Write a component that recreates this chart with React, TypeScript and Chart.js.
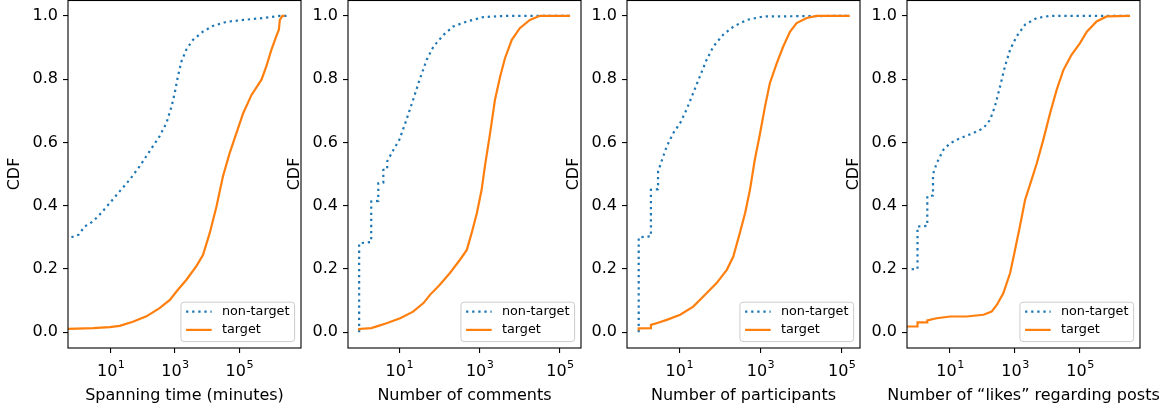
import React, { useEffect, useRef } from 'react';
import { Chart, registerables } from 'chart.js';

Chart.register(...registerables);

const FONT = "'DejaVu Sans', 'Liberation Sans', sans-serif";
const BLUE = '#1f77b4';
const ORANGE = '#ff7f0e';

// ---------- data ----------
const seriesLabels = ['non-target', 'target'];
const xTitles = [
  'Spanning time (minutes)',
  'Number of comments',
  'Number of participants',
  'Number of \u201clikes\u201d regarding posts',
];
const xTickValues = [10, 1000, 100000];
const xTickBases = ['10', '10', '10'];
const xTickExponents = ['1', '3', '5'];
const yTickValues = [0, 0.2, 0.4, 0.6, 0.8, 1.0];
const yTickLabels = ['0.0', '0.2', '0.4', '0.6', '0.8', '1.0'];

// Spanning time
const spanNonTargetX = [0.6, 1, 1.55, 2.8, 4.5, 9.3, 19, 39, 79, 160, 330, 540, 780, 980, 1230, 1590, 2240, 3630, 7400, 15000, 40000, 132000, 550000, 1820000, 3700000];
const spanNonTargetY = [0.300, 0.308, 0.334, 0.350, 0.371, 0.408, 0.445, 0.482, 0.524, 0.571, 0.619, 0.661, 0.713, 0.756, 0.808, 0.856, 0.893, 0.924, 0.950, 0.968, 0.981, 0.987, 0.993, 1.0, 1.0];
const spanTargetX = [0.4, 2.8, 9.3, 19, 49, 129, 331, 692, 1230, 2240, 4570, 7410, 12000, 19500, 30900, 50100, 81300, 132000, 240000, 490000, 692000, 1000000, 1410000, 1700000, 1820000, 2190000, 2570000];
const spanTargetY = [0.0105, 0.0126, 0.0158, 0.020, 0.033, 0.050, 0.076, 0.102, 0.134, 0.165, 0.208, 0.244, 0.313, 0.397, 0.492, 0.566, 0.629, 0.692, 0.750, 0.798, 0.840, 0.893, 0.935, 0.956, 0.987, 1.0, 1.0];

// Comments
const commNonTargetX = [1, 1, 2, 2, 3, 3, 4, 4, 5, 5, 7.1, 10, 15, 22, 32, 48, 71, 126, 219, 479, 1230, 4680, 178000];
const commNonTargetY = [0, 0.281, 0.285, 0.413, 0.415, 0.471, 0.473, 0.513, 0.515, 0.54, 0.576, 0.608, 0.671, 0.734, 0.798, 0.861, 0.903, 0.940, 0.966, 0.982, 0.996, 1.0, 1.0];
const commTargetX = [1, 1, 2, 3, 4.8, 10.5, 22, 40, 58, 102, 182, 324, 479, 631, 851, 1120, 1350, 1820, 2400, 3240, 4270, 6310, 10000, 17800, 31600, 178000];
const commTargetY = [0.005, 0.01, 0.013, 0.02, 0.028, 0.044, 0.065, 0.092, 0.118, 0.150, 0.187, 0.229, 0.260, 0.313, 0.376, 0.450, 0.524, 0.629, 0.734, 0.808, 0.866, 0.924, 0.961, 0.987, 1.0, 1.0];

// Participants
const partNonTargetX = [1, 1, 2, 2, 3, 3, 4, 4.9, 7.1, 10.5, 15, 22, 32, 47, 69, 120, 214, 457, 1170, 158000];
const partNonTargetY = [0, 0.30, 0.303, 0.45, 0.452, 0.508, 0.555, 0.587, 0.629, 0.661, 0.703, 0.756, 0.808, 0.861, 0.903, 0.940, 0.966, 0.987, 0.998, 1.0];
const partTargetX = [1, 1, 2, 2, 3, 4.9, 10.5, 22, 39, 83, 148, 214, 309, 417, 550, 724, 977, 1290, 1700, 2510, 3630, 5370, 7760, 13800, 24000, 158000];
const partTargetY = [0.005, 0.012, 0.013, 0.023, 0.03, 0.039, 0.055, 0.081, 0.113, 0.155, 0.197, 0.239, 0.313, 0.376, 0.450, 0.545, 0.629, 0.713, 0.787, 0.850, 0.903, 0.950, 0.977, 0.993, 1.0, 1.0];

// Likes
const likeNonTargetX = [0.66, 1, 1, 2, 2, 3, 3, 3.9, 6.2, 10, 20, 52, 107, 170, 240, 347, 490, 708, 1120, 2040, 4680, 12000, 3470000];
const likeNonTargetY = [0.199, 0.2, 0.334, 0.336, 0.43, 0.432, 0.50, 0.534, 0.576, 0.597, 0.613, 0.629, 0.645, 0.671, 0.713, 0.777, 0.840, 0.893, 0.935, 0.972, 0.993, 1.0, 1.0];
const likeTargetX = [0.45, 1, 1, 2, 2, 3.9, 10, 32, 107, 191, 275, 436, 708, 1000, 1410, 2040, 3240, 4680, 7410, 12000, 19100, 30900, 54900, 100000, 162000, 324000, 661000, 3470000];
const likeTargetY = [0.018, 0.018, 0.031, 0.031, 0.037, 0.044, 0.0495, 0.0495, 0.055, 0.065, 0.086, 0.123, 0.187, 0.260, 0.334, 0.418, 0.482, 0.534, 0.608, 0.692, 0.766, 0.829, 0.877, 0.914, 0.950, 0.982, 0.998, 1.0];

// ---------- layout ----------
const Y_AXIS_W = 68;
const X_AXIS_H = 64;
const PLOT_W = 233;
const CANVAS_H = 412;
const TICK_FS = 16;
const EXP_FS = 11.2;
const LEGEND_FS = 12.8;

type Panel = {
  left: number;
  rightExtra: number;
  xMin: number;
  xMax: number;
  title: string;
  nx: number[];
  ny: number[];
  tx: number[];
  ty: number[];
};

const panels: Panel[] = [
  { left: 0, rightExtra: 2, xMin: 0.47, xMax: 8.3e6, title: xTitles[0], nx: spanNonTargetX, ny: spanNonTargetY, tx: spanTargetX, ty: spanTargetY },
  { left: 280, rightExtra: 2, xMin: 0.528, xMax: 333400, title: xTitles[1], nx: commNonTargetX, ny: commNonTargetY, tx: commTargetX, ty: commTargetY },
  { left: 559, rightExtra: 2, xMin: 0.515, xMax: 282500, title: xTitles[2], nx: partNonTargetX, ny: partNonTargetY, tx: partTargetX, ty: partTargetY },
  { left: 839, rightExtra: 27, xMin: 0.475, xMax: 7.01e6, title: xTitles[3], nx: likeNonTargetX, ny: likeNonTargetY, tx: likeTargetX, ty: likeTargetY },
];

const toPoints = (xs: number[], ys: number[]) => xs.map((x, i) => ({ x, y: ys[i] }));

const framePlugin = {
  id: 'mplFrame',
  afterDatasetsDraw(chart: any) {
    const { ctx, chartArea: a } = chart;
    ctx.save();
    ctx.strokeStyle = '#000';
    ctx.lineWidth = 1.1;
    ctx.strokeRect(a.left, a.top + 0.5, a.right - a.left, a.bottom - a.top - 0.5);
    ctx.restore();
  },
};

// x tick labels as "10" with raised exponent, plus x-axis title (not width-limited)
const xTextPlugin = {
  id: 'mplXText',
  afterDraw(chart: any) {
    const { ctx, chartArea: a } = chart;
    const xs = chart.scales.x;
    ctx.save();
    ctx.fillStyle = '#000';
    ctx.textBaseline = 'alphabetic';
    ctx.textAlign = 'left';
    xTickValues.forEach((v, i) => {
      const px = xs.getPixelForValue(v);
      ctx.font = `${TICK_FS}px ${FONT}`;
      const w1 = ctx.measureText(xTickBases[i]).width;
      ctx.font = `${EXP_FS}px ${FONT}`;
      const w2 = ctx.measureText(xTickExponents[i]).width;
      const x0 = px - (w1 + w2) / 2;
      ctx.font = `${TICK_FS}px ${FONT}`;
      ctx.fillText(xTickBases[i], x0, a.bottom + 28);
      ctx.font = `${EXP_FS}px ${FONT}`;
      ctx.fillText(xTickExponents[i], x0 + w1 + 0.5, a.bottom + 20);
    });
    const title = chart.options.plugins.mplXText.title;
    ctx.font = `${TICK_FS}px ${FONT}`;
    ctx.textAlign = 'center';
    ctx.fillText(title, (a.left + a.right) / 2, a.bottom + 51.5);
    ctx.restore();
  },
};

const legendPlugin = {
  id: 'mplLegend',
  afterDraw(chart: any) {
    const { ctx, chartArea: a } = chart;
    const fs = LEGEND_FS;
    ctx.save();
    ctx.font = `${fs}px ${FONT}`;
    const items = seriesLabels.map((l) => chart.data.datasets.find((d: any) => d.label === l));
    const tw = Math.max(...seriesLabels.map((l) => ctx.measureText(l).width));
    const pad = 0.4 * fs;
    const hl = 2 * fs;
    const htp = 0.8 * fs;
    const w = pad + hl + htp + tw + pad;
    const h = 39.4;
    const x0 = a.right - 0.5 * fs - w;
    const y0 = a.bottom - 0.5 * fs - h;
    ctx.beginPath();
    if (ctx.roundRect) ctx.roundRect(x0, y0, w, h, 3);
    else ctx.rect(x0, y0, w, h);
    ctx.fillStyle = 'rgba(255,255,255,0.8)';
    ctx.fill();
    ctx.strokeStyle = '#cccccc';
    ctx.lineWidth = 1;
    ctx.stroke();
    const rows = [y0 + 9.4, y0 + 27.7];
    items.forEach((ds: any, i: number) => {
      const y = rows[i];
      ctx.beginPath();
      ctx.strokeStyle = ds.borderColor;
      ctx.lineWidth = ds.borderWidth;
      ctx.setLineDash(ds.borderDash || []);
      ctx.moveTo(x0 + pad, y);
      ctx.lineTo(x0 + pad + hl, y);
      ctx.stroke();
      ctx.setLineDash([]);
      ctx.fillStyle = '#000';
      ctx.textBaseline = 'middle';
      ctx.textAlign = 'left';
      ctx.fillText(ds.label, x0 + pad + hl + htp, y);
    });
    ctx.restore();
  },
};

function CdfPanel({ p }: { p: Panel }) {
  const ref = useRef<HTMLCanvasElement | null>(null);
  const canvasW = Y_AXIS_W + PLOT_W + p.rightExtra;
  useEffect(() => {
    if (!ref.current) return;
    const chart = new Chart(ref.current, {
      type: 'line',
      data: {
        datasets: [
          {
            label: seriesLabels[1],
            data: toPoints(p.tx, p.ty),
            borderColor: ORANGE,
            backgroundColor: ORANGE,
            borderWidth: 2.2,
            pointRadius: 0,
            tension: 0,
            fill: false,
            order: 0,
          },
          {
            label: seriesLabels[0],
            data: toPoints(p.nx, p.ny),
            borderColor: BLUE,
            backgroundColor: BLUE,
            borderWidth: 2.2,
            borderDash: [2.3, 3.8],
            pointRadius: 0,
            tension: 0,
            fill: false,
            order: 1,
          },
        ],
      },
      options: {
        animation: false,
        responsive: false,
        events: [],
        layout: { padding: { top: 0, right: p.rightExtra, left: 0, bottom: 0 } },
        plugins: {
          legend: { display: false },
          tooltip: { enabled: false },
          mplXText: { title: p.title },
        },
        scales: {
          x: {
            type: 'logarithmic',
            min: p.xMin,
            max: p.xMax,
            afterBuildTicks: (s: any) => {
              s.ticks = xTickValues.map((v) => ({ value: v }));
            },
            afterFit: (s: any) => {
              s.height = X_AXIS_H;
              s.paddingLeft = 0;
              s.paddingRight = 0;
            },
            ticks: { display: false, autoSkip: false, maxRotation: 0 },
            grid: { display: true, drawOnChartArea: false, drawTicks: true, tickLength: 5, tickColor: '#000', lineWidth: 1.1 },
            border: { display: false },
            title: { display: false },
          },
          y: {
            type: 'linear',
            min: -0.05,
            max: 1.05,
            afterBuildTicks: (s: any) => {
              s.ticks = yTickValues.map((v) => ({ value: v }));
            },
            afterFit: (s: any) => {
              s.width = Y_AXIS_W;
              s.paddingTop = 0;
              s.paddingBottom = 0;
            },
            ticks: {
              autoSkip: false,
              padding: 5,
              color: '#000',
              font: { family: FONT, size: TICK_FS },
              callback: (v: any) => {
                const i = yTickValues.findIndex((t) => Math.abs(t - Number(v)) < 1e-9);
                return i >= 0 ? yTickLabels[i] : '';
              },
            },
            grid: { display: true, drawOnChartArea: false, drawTicks: true, tickLength: 5, tickColor: '#000', lineWidth: 1.1 },
            border: { display: false },
            title: { display: true, text: 'CDF', color: '#000', font: { family: FONT, size: TICK_FS }, padding: { top: 5, bottom: 0 } },
          },
        },
      } as any,
      plugins: [framePlugin, xTextPlugin, legendPlugin],
    });
    return () => chart.destroy();
  }, [p]);
  return (
    <canvas
      ref={ref}
      width={canvasW}
      height={CANVAS_H}
      style={{ position: 'absolute', left: p.left, top: 0, width: canvasW, height: CANVAS_H }}
    />
  );
}

export default function App() {
  return (
    <div style={{ position: 'absolute', left: 0, top: 0, width: 1167, height: 412, background: '#fff', overflow: 'hidden' }}>
      {panels.map((p, i) => (
        <CdfPanel key={i} p={p} />
      ))}
    </div>
  );
}
